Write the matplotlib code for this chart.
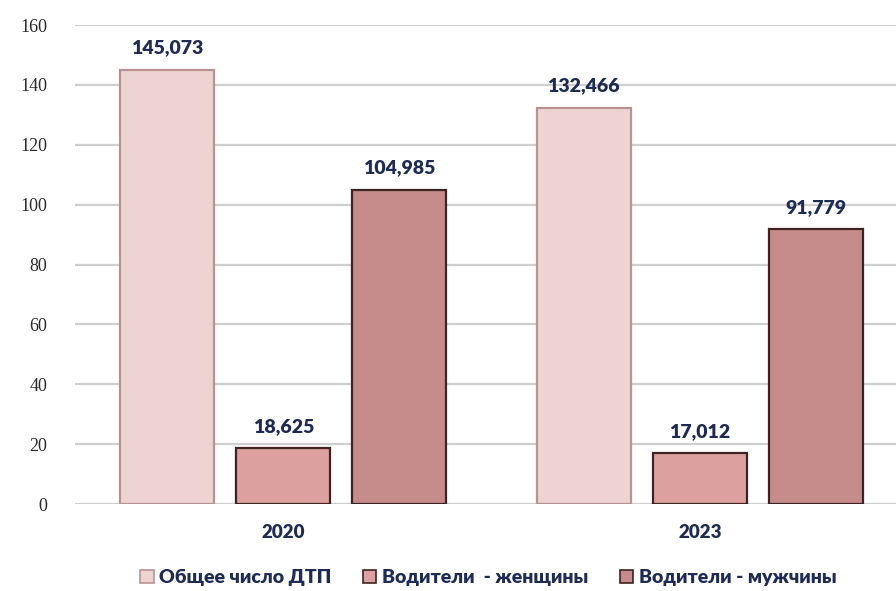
import matplotlib.pyplot as plt
import numpy as np
from matplotlib.patches import Patch

years = ["2020", "2023"]
series_names = ["Общее число ДТП", "Водители  - женщины", "Водители - мужчины"]
total = [145.073, 132.466]
women = [18.625, 17.012]
men = [104.985, 91.779]
yticks = [0, 20, 40, 60, 80, 100, 120, 140, 160]

face_colors = ["#eed3d3", "#dca09f", "#c58c8b"]
edge_colors = ["#b99393", "#3f2222", "#3f2222"]
navy = "#1d2b55"


def main():
    fig = plt.figure(figsize=(8.96, 5.91), dpi=100)
    ax = fig.add_axes([0.0837, 0.147, 0.93, 0.8105])

    x = np.arange(len(years))
    width = 0.225
    offsets = [-0.279, 0.0, 0.278]

    for vals, off, fc, ec in zip([total, women, men], offsets, face_colors, edge_colors):
        bars = ax.bar(x + off, vals, width, color=fc, edgecolor=ec, linewidth=1.6, zorder=3)
        for b, v in zip(bars, vals):
            ax.text(b.get_x() + b.get_width() / 2, v + 4.5, f"{v:,.3f}".replace(".", ","),
                    ha="center", va="bottom", fontsize=14, fontweight="heavy",
                    color=navy, family="Lato")

    ax.set_ylim(0, 160)
    ax.set_xlim(-0.5, 1.5)
    ax.set_yticks(yticks)
    ax.set_yticklabels([str(t) for t in yticks], family="Liberation Serif",
                       fontsize=13, color="#2a2a2a")
    ax.tick_params(axis="y", length=0, pad=20)
    ax.set_xticks(x)
    ax.set_xticklabels(years, family="Lato", fontweight="heavy", fontsize=13.5, color=navy)
    ax.tick_params(axis="x", length=0, pad=14)

    ax.yaxis.grid(True, color="#cfcfcf", linewidth=1.6, zorder=0)
    for s in ax.spines.values():
        s.set_visible(False)

    handles = [Patch(facecolor=fc, edgecolor=ec, linewidth=1.2)
               for fc, ec in zip(face_colors, edge_colors)]
    leg = fig.legend(handles, series_names, loc="center", bbox_to_anchor=(0.545, 0.022),
                     ncol=3, frameon=False, handlelength=0.7, handleheight=0.7,
                     handletextpad=0.3, columnspacing=1.6,
                     prop={"family": "Lato", "weight": "heavy", "size": 14})
    for t in leg.get_texts():
        t.set_color(navy)

    fig.savefig("out.png", dpi=100)
    plt.close(fig)


if __name__ == "__main__":
    main()
